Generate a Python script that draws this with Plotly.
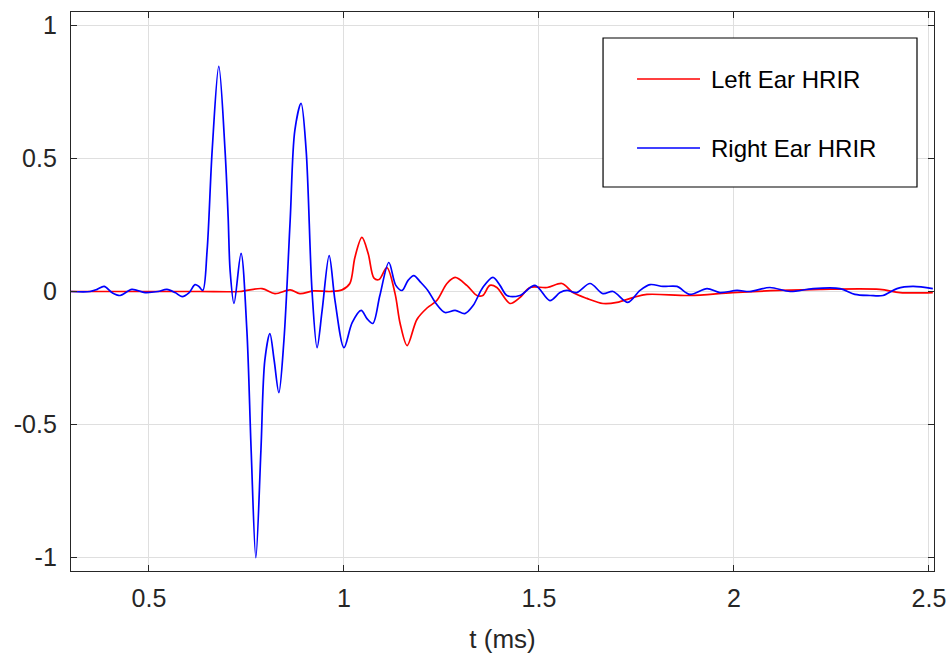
import plotly.graph_objects as go

# Head-related impulse responses, time in milliseconds
t_left = [0.300, 0.503, 0.631, 0.733, 0.790, 0.823, 0.862, 0.887, 0.921, 0.964,
          0.995, 1.015, 1.028, 1.046, 1.062, 1.077, 1.090, 1.110, 1.131, 1.144,
          1.162, 1.187, 1.213, 1.238, 1.264, 1.285, 1.315, 1.341, 1.356,
          1.374, 1.392, 1.426, 1.451, 1.477, 1.521, 1.559, 1.587, 1.623, 1.664,
          1.700, 1.741, 1.777, 1.887, 1.997, 2.118, 2.221, 2.374, 2.426, 2.510]
left_ear = [0.000, 0.000, 0.000, 0.000, 0.011, -0.008, 0.006, -0.008, 0.002, 0.000,
            0.006, 0.030, 0.128, 0.203, 0.143, 0.050, 0.045, 0.090, -0.008, -0.120,
            -0.203, -0.105, -0.062, -0.034, 0.030, 0.053, 0.023, -0.015, -0.015,
            0.023, 0.015, -0.045, -0.023, 0.015, 0.015, 0.030, -0.004, -0.026, -0.045,
            -0.041, -0.023, -0.011, -0.015, -0.004, 0.004, 0.008, 0.008, -0.004, -0.004]

t_right = [0.300, 0.349, 0.367, 0.385, 0.405, 0.426, 0.456, 0.490, 0.523, 0.546,
           0.567, 0.585, 0.603, 0.618, 0.628, 0.638, 0.649, 0.662, 0.679, 0.695,
           0.703, 0.708, 0.718, 0.736, 0.751, 0.762, 0.774, 0.787, 0.797, 0.810,
           0.821, 0.833, 0.846, 0.862, 0.874, 0.890, 0.903, 0.918, 0.931, 0.944,
           0.962, 0.977, 1.000, 1.021, 1.044, 1.059, 1.074, 1.092, 1.115, 1.133,
           1.149, 1.164, 1.179, 1.197, 1.215, 1.236, 1.259, 1.285, 1.310, 1.331,
           1.356, 1.382, 1.400, 1.418, 1.451, 1.490, 1.528, 1.554, 1.572, 1.597,
           1.631, 1.664, 1.690, 1.728, 1.759, 1.785, 1.818, 1.854, 1.887, 1.931,
           1.964, 2.008, 2.041, 2.092, 2.144, 2.203, 2.272, 2.310, 2.349, 2.382,
           2.418, 2.459, 2.510]
right_ear = [0.000, 0.000, 0.008, 0.019, -0.004, -0.015, 0.008, -0.004, 0.000, 0.008,
             -0.004, -0.019, -0.004, 0.026, 0.019, 0.004, 0.154, 0.530, 0.846, 0.530,
             0.278, 0.079, -0.045, 0.143, -0.147, -0.598, -1.000, -0.598, -0.259, -0.158,
             -0.259, -0.380, -0.184, 0.267, 0.605, 0.707, 0.530, 0.004, -0.211, -0.071,
             0.135, -0.034, -0.211, -0.117, -0.071, -0.102, -0.120, -0.015, 0.109, 0.023,
             0.004, 0.041, 0.060, 0.034, 0.004, -0.045, -0.079, -0.071, -0.083, -0.053,
             0.015, 0.053, 0.023, -0.015, -0.015, 0.023, -0.034, -0.004, 0.004, -0.004,
             0.030, -0.008, 0.000, -0.041, 0.004, 0.026, 0.019, 0.019, -0.011, 0.011,
             -0.004, 0.004, 0.000, 0.015, 0.000, 0.011, 0.011, -0.011, -0.015, -0.015,
             0.011, 0.019, 0.011]

x_ticks = [0.5, 1, 1.5, 2, 2.5]
x_tick_labels = ["0.5", "1", "1.5", "2", "2.5"]
y_ticks = [-1, -0.5, 0, 0.5, 1]
y_tick_labels = ["-1", "-0.5", "0", "0.5", "1"]

series_names = ["Left Ear HRIR", "Right Ear HRIR"]
series_colors = ["#ff0000", "#0000ff"]

FONT = "Liberation Sans, Arial, sans-serif"
AXIS_COLOR = "#262626"
GRID_COLOR = "#dfdfdf"
LINE_W = 1.7

fig = go.Figure()
for tx, vals, name, color in [(t_left, left_ear, series_names[0], series_colors[0]),
                              (t_right, right_ear, series_names[1], series_colors[1])]:
    fig.add_trace(go.Scatter(
        x=tx, y=vals, mode="lines", name=name, showlegend=False,
        line=dict(color=color, width=LINE_W, shape="spline", smoothing=0.9),
    ))

axis_common = dict(
    showline=True, linecolor=AXIS_COLOR, linewidth=1.3, mirror="ticks",
    ticks="inside", ticklen=6, tickcolor=AXIS_COLOR, tickwidth=1,
    showgrid=True, gridcolor=GRID_COLOR, gridwidth=1, zeroline=False,
    tickfont=dict(family=FONT, size=25, color=AXIS_COLOR),
    automargin=False,
)

fig.update_xaxes(
    range=[0.3, 2.513], tickmode="array", tickvals=x_ticks, ticktext=x_tick_labels,
    title=dict(text="t (ms)", font=dict(family=FONT, size=26, color=AXIS_COLOR), standoff=18),
    ticklabelstandoff=5,
    **axis_common,
)
fig.update_yaxes(
    range=[-1.05, 1.05], tickmode="array", tickvals=y_ticks, ticktext=y_tick_labels,
    ticklabelstandoff=8,
    **axis_common,
)

# Boxed legend in the upper right of the axes (paper coordinates)
box_x0, box_x1, box_y0, box_y1 = 0.6165, 0.9803, 0.6869, 0.9535
sample_x0, sample_x1, label_x = 0.6559, 0.7289, 0.7393
entry_y = [0.8801, 0.7567]

shapes = [dict(type="rect", xref="paper", yref="paper",
               x0=box_x0, x1=box_x1, y0=box_y0, y1=box_y1,
               line=dict(color="#000000", width=1.2), fillcolor="white", layer="above")]
annotations = []
for name, color, ey in zip(series_names, series_colors, entry_y):
    shapes.append(dict(type="line", xref="paper", yref="paper",
                       x0=sample_x0, x1=sample_x1, y0=ey, y1=ey,
                       line=dict(color=color, width=LINE_W), layer="above"))
    annotations.append(dict(xref="paper", yref="paper", x=label_x, y=ey,
                            xanchor="left", yanchor="middle", showarrow=False,
                            text=name, font=dict(family=FONT, size=24, color="#000000")))

fig.update_layout(
    width=950, height=661,
    margin=dict(l=71, r=16, t=12, b=90),
    paper_bgcolor="white", plot_bgcolor="white",
    showlegend=False,
    shapes=shapes,
    annotations=annotations,
)

fig.write_html("out.html")
